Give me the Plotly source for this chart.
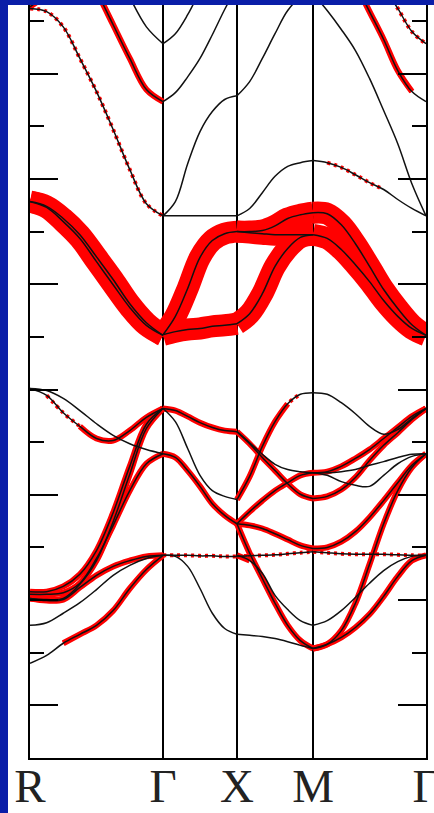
import numpy as np
import plotly.graph_objects as go

# High-symmetry path of the simple-cubic Brillouin zone
path_labels = ["R", "Γ", "X", "M", "Γ"]
path_k = [0.0, 1.0, 1.556, 2.128, 2.977]
points_per_segment = [9, 7, 7, 9]

# Each branch: (energies in eV on the evenly spaced k-points of the segment,
#               orbital weight - scalar or one value per k-point)
bands_R_G = [
    ([7.24, 7.18, 6.89, 6.29, 5.66, 4.94, 4.18, 3.53, 3.30], 0.15),
    ([7.27, 7.52, 7.99, None, None, None, None, None, None], 0.5),
    ([10.09, 9.61, 8.98, 8.28, 7.58, 6.93, 6.29, 5.70, 5.47], 0.5),
    ([None, None, None, 9.42, 8.76, 8.09, 7.45, 6.89, 6.57], 0.0),
    ([3.57, 3.48, 3.25, 2.94, 2.52, 2.09, 1.63, 1.27, 1.03], 1.0),
    ([3.57, 3.46, 3.19, 2.87, 2.43, 1.99, 1.56, 1.22, 1.03], 1.0),
    ([0.02, -0.02, -0.17, -0.40, -0.65, -0.87, -1.03, -1.14, -1.22], 0.0),
    ([0.02, -0.11, -0.44, -0.70, -0.93, -0.97, -0.78, -0.53, -0.36],
     [0, 0.2, 0.2, 0.5, 0.5, 0.5, 0.5, 0.5, 0.5]),
    ([-3.84, -3.84, -3.74, -3.51, -3.06, -2.34, -1.46, -0.66, -0.36], 0.5),
    ([-3.97, -3.99, -3.97, -3.70, -3.25, -2.51, -1.61, -0.74, -0.36], 0.5),
    ([-3.89, -3.89, -3.86, -3.68, -3.21, -2.58, -1.92, -1.41, -1.22], 0.5),
    ([-3.97, -4.01, -3.99, -3.76, -3.53, -3.36, -3.25, -3.17, -3.15], 0.5),
    ([-4.48, -4.43, -4.25, -4.05, -3.80, -3.53, -3.34, -3.21, -3.15], 0.0),
    ([-5.20, -5.05, -4.82, -4.65, -4.48, -4.20, -3.78, -3.42, -3.15],
     [0, 0, 0.5, 0.5, 0.5, 0.5, 0.5, 0.5, 0.5]),
]

bands_G_X = [
    ([5.47, 5.64, 5.94, 6.29, 6.74, 7.22, 7.65], 0.0),
    ([6.57, 6.76, 7.12, 7.58, 8.09, None, None], 0.0),
    ([3.30, 3.57, 4.29, 4.90, 5.28, 5.51, 5.58], 0.0),
    ([3.30, 3.30, 3.30, 3.30, 3.30, 3.30, 3.30], 0.0),
    ([1.04, 1.39, 1.92, 2.51, 2.83, 2.96, 3.00], 1.0),
    ([1.04, 1.10, 1.14, 1.16, 1.20, 1.22, 1.25], 1.0),
    ([-0.36, -0.40, -0.51, -0.63, -0.72, -0.78, -0.80], 0.5),
    ([-0.36, -0.61, -1.12, -1.63, -1.92, -2.03, -2.09], 0.0),
    ([-1.22, -1.29, -1.54, -1.84, -2.17, -2.39, -2.55], 0.6),
    ([-3.15, -3.15, -3.15, -3.16, -3.16, -3.17, -3.17], 0.2),
    ([-3.15, -3.17, -3.36, -3.78, -4.25, -4.54, -4.65], 0.0),
]

bands_X_M = [
    ([7.65, 8.09, 8.47, 8.76, 8.92, 8.99, 9.01], 0.0),
    ([5.58, 5.85, 6.29, 6.76, 7.20, 7.45, 7.50], 0.0),
    ([3.30, 3.44, 3.74, 4.05, 4.24, 4.31, 4.35], 0.0),
    ([1.25, 1.44, 1.82, 2.34, 2.68, 2.89, 2.94], 1.0),
    ([3.00, 3.00, 3.02, 3.11, 3.25, 3.32, 3.36], 1.0),
    ([3.00, 2.98, 2.96, 2.94, 2.94, 2.94, 2.94], 1.0),
    ([-0.80, -1.03, -1.29, -1.54, -1.79, -1.99, -2.07], 0.5),
    ([-0.80, -1.01, -1.23, -1.42, -1.52, -1.56, -1.58], 0.0),
    ([-2.09, -1.65, -1.08, -0.61, -0.27, -0.09, -0.06],
     [0.5, 0.5, 0.5, 0.5, 0.5, 0.2, 0]),
    ([-2.55, -2.32, -2.11, -1.92, -1.77, -1.63, -1.58], 0.5),
    ([-2.55, -2.58, -2.64, -2.74, -2.85, -2.96, -3.02], 0.6),
    ([-2.55, -3.11, -3.59, -4.06, -4.48, -4.77, -4.92], 0.5),
    ([-3.15, -3.25, -3.49, -3.91, -4.18, -4.39, -4.48],
     [0.5, 0.5, 0, 0, 0, 0, 0]),
    ([-4.65, -4.67, -4.69, -4.73, -4.79, -4.86, -4.92], 0.0),
    ([-3.17, -3.16, -3.15, -3.14, -3.12, -3.10, -3.08], 0.2),
]

bands_M_G = [
    ([9.01, 8.76, 8.28, 7.71, 7.18, 6.65, 6.06, 5.66, 5.47],
     [0, 0, 0, 0.5, 0.5, 0.5, 0.5, 0.5, 0]),
    ([None, None, None, None, 8.19, 7.65, 7.24, 6.80, 6.57], 0.2),
    ([7.52, 7.20, 6.84, 6.44, 5.91, 5.30, 4.67, 3.91, 3.30], 0.0),
    ([4.35, 4.31, 4.22, 4.08, 3.93, 3.80, 3.61, 3.44, 3.30],
     [0, 0.2, 0.2, 0.2, 0.2, 0.2, 0, 0, 0]),
    ([3.36, 3.34, 3.13, 2.77, 2.34, 1.90, 1.54, 1.23, 1.03], 1.0),
    ([2.94, 2.87, 2.66, 2.37, 2.05, 1.69, 1.39, 1.16, 1.03], 1.0),
    ([-2.07, -2.03, -1.90, -1.67, -1.35, -1.06, -0.82, -0.57, -0.36], 0.5),
    ([-0.06, -0.09, -0.25, -0.46, -0.70, -0.85, -0.76, -0.55, -0.36],
     [0, 0, 0, 0, 0, 0, 0.5, 0.5, 0.5]),
    ([-1.58, -1.56, -1.46, -1.31, -1.14, -0.93, -0.72, -0.51, -0.36], 0.5),
    ([-1.58, -1.58, -1.56, -1.52, -1.44, -1.37, -1.29, -1.23, -1.22], 0.0),
    ([-1.58, -1.63, -1.75, -1.82, -1.84, -1.63, -1.41, -1.27, -1.22], 0.0),
    ([-3.02, -3.00, -2.89, -2.70, -2.43, -2.11, -1.77, -1.44, -1.22], 0.6),
    ([-4.92, -4.84, -4.58, -4.06, -3.32, -2.55, -1.92, -1.48, -1.22], 0.5),
    ([-4.92, -4.84, -4.71, -4.52, -4.27, -3.93, -3.55, -3.25, -3.15], 0.5),
    ([-4.48, -4.39, -4.20, -3.95, -3.68, -3.44, -3.27, -3.17, -3.15], 0.0),
    ([-3.08, -3.10, -3.12, -3.13, -3.13, -3.13, -3.14, -3.15, -3.15], 0.2),
]

segments = [bands_R_G, bands_G_X, bands_X_M, bands_M_G]

# weight classes for the fat-band overlay: (lower bound, line width, dash)
weight_classes = [
    (0.0, 4, "3px,4px"),
    (0.3, 6, "solid"),
    (0.8, 22, "solid"),
]

fig = go.Figure()


def collect(threshold=None):
    xs, ys = [], []
    for s, branches in enumerate(segments):
        k = np.linspace(path_k[s], path_k[s + 1], points_per_segment[s])
        for energies, weight in branches:
            w = weight if isinstance(weight, list) else [weight] * len(energies)
            for ki, e, wi in zip(k, energies, w):
                keep = e is not None and (threshold is None or wi > threshold)
                xs.append(ki)
                ys.append(e if keep else None)
            xs.append(None)
            ys.append(None)
    return xs, ys


for lower, width, dash in weight_classes:
    xs, ys = collect(lower)
    fig.add_trace(go.Scatter(
        x=xs, y=ys, mode="lines", hoverinfo="skip",
        line=dict(color="#ff0000", width=width, dash=dash, shape="spline"),
    ))

xs, ys = collect()
fig.add_trace(go.Scatter(
    x=xs, y=ys, mode="lines", hoverinfo="skip",
    line=dict(color="#111111", width=1.5, shape="spline"),
))

W, H = 434, 813
ml, mr, mt, mb = 30, 8, 0, 55
pw, ph = W - ml - mr, H - mt - mb
blue = "#0a1ea8"

fig.update_layout(
    width=W, height=H,
    margin=dict(l=ml, r=mr, t=mt, b=mb, autoexpand=False),
    paper_bgcolor="white", plot_bgcolor="white",
    showlegend=False,
    shapes=[
        dict(type="rect", xref="paper", yref="paper", layer="above",
             x0=-ml / pw, x1=-(ml - 8) / pw, y0=-mb / ph, y1=1.01,
             fillcolor=blue, line_width=0),
        dict(type="rect", xref="paper", yref="paper", layer="above",
             x0=-ml / pw, x1=1 + mr / pw, y0=1 - 5 / ph, y1=1.01,
             fillcolor=blue, line_width=0),
    ],
)

fig.update_xaxes(
    range=[path_k[0], path_k[-1]], automargin=False,
    tickmode="array", tickvals=path_k, ticktext=path_labels,
    ticklabeloverflow="allow", ticklabelstandoff=-14,
    ticks="", showgrid=True, gridcolor="black", gridwidth=1.5,
    showline=True, linecolor="black", linewidth=2, mirror=True,
    zeroline=False,
    tickfont=dict(family="Liberation Serif", size=47, color="#222222"),
)

fig.update_yaxes(
    range=[-7.0, 7.4], automargin=False,
    showline=True, linecolor="black", linewidth=2, mirror="ticks",
    ticks="inside", tick0=0, dtick=2, ticklen=28, tickwidth=2,
    tickcolor="black", showticklabels=False,
    showgrid=False, zeroline=False,
    minor=dict(ticks="inside", tick0=0, dtick=1, ticklen=14,
               tickwidth=2, tickcolor="black"),
)

fig.write_html("out.html")
